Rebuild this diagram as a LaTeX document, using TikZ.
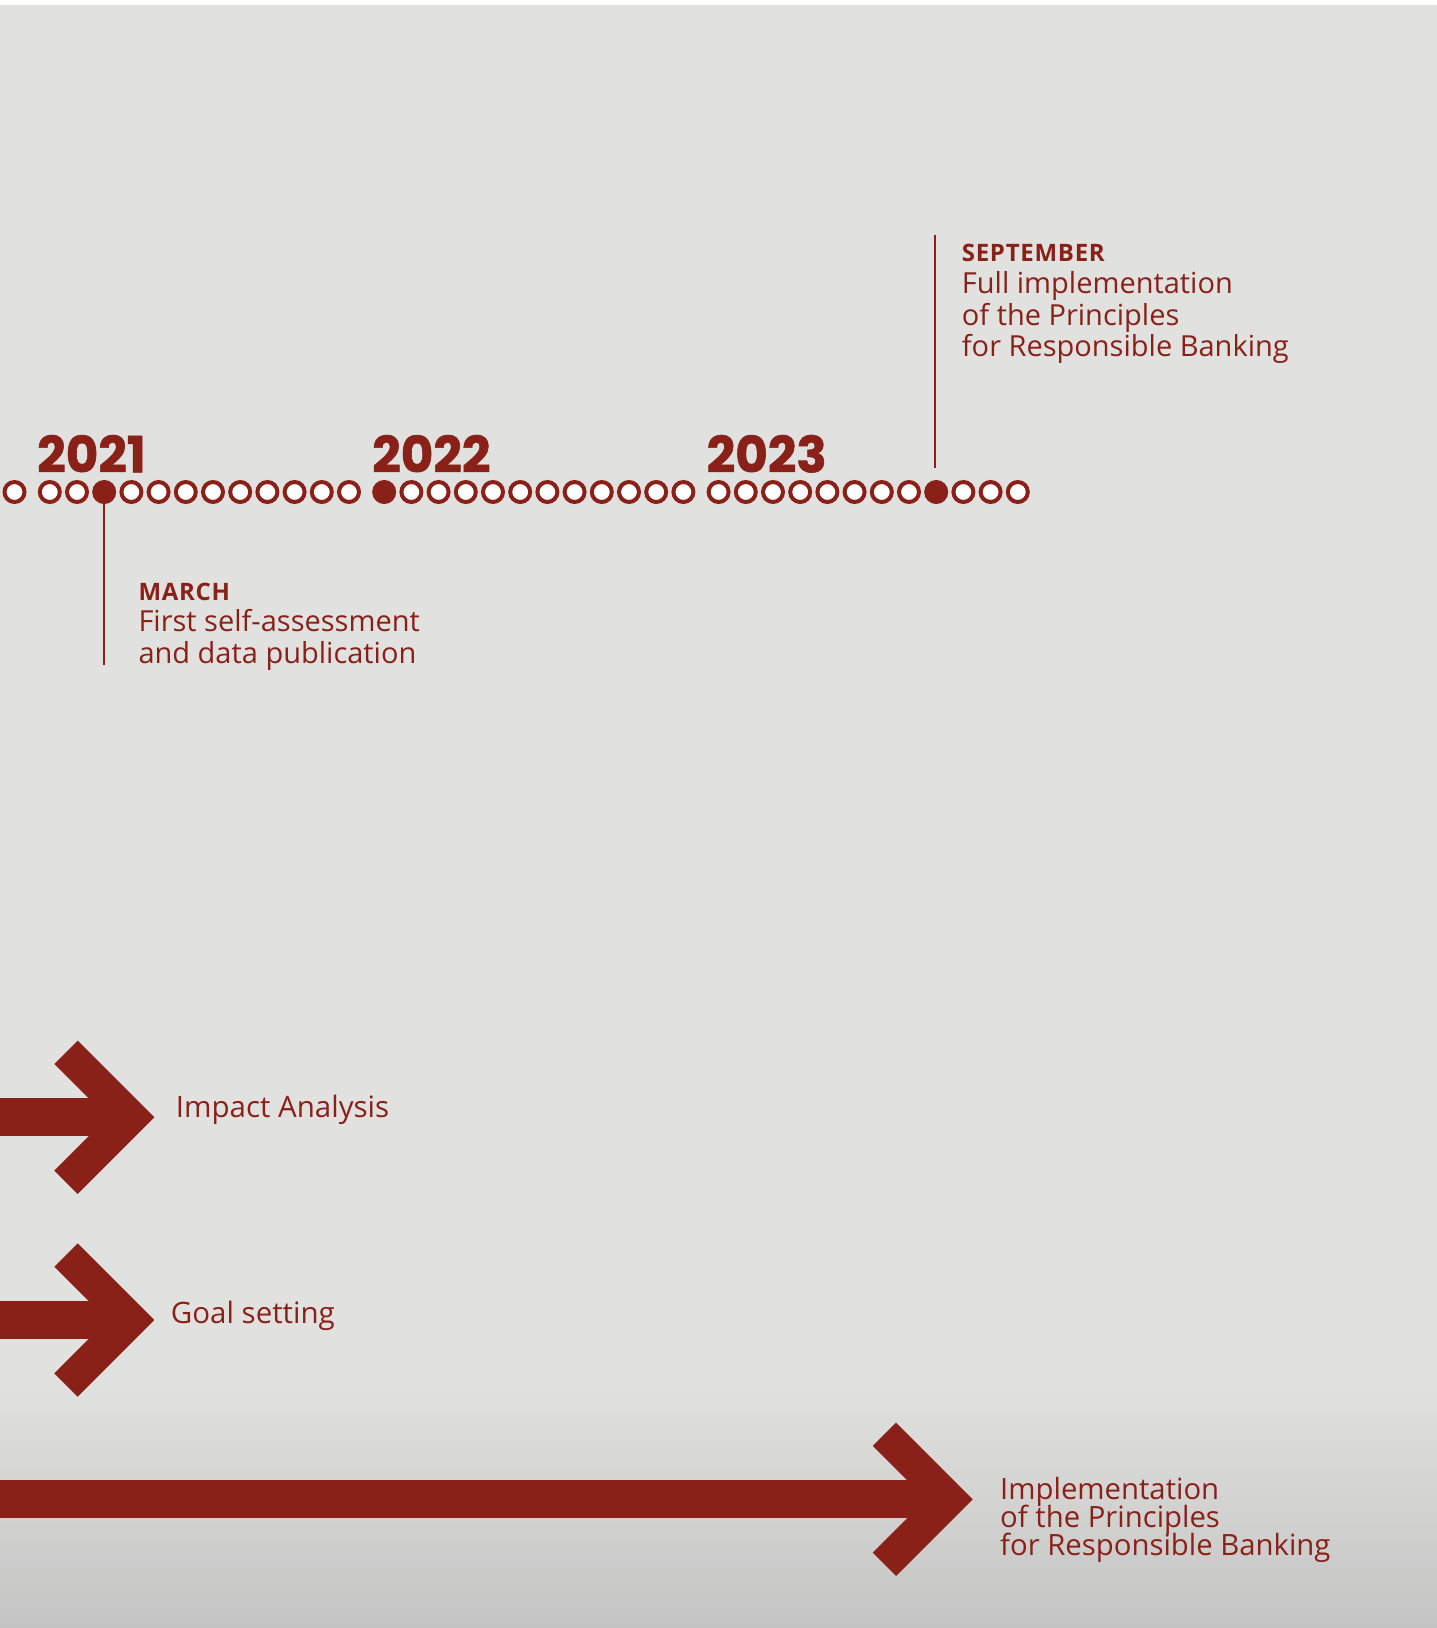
\documentclass[tikz,border=0pt]{standalone}
\usepackage{fontspec}
\setmainfont{Open Sans}
\newfontfamily\yearfont{Poppins}[FakeBold=1.2]
\definecolor{prbred}{HTML}{8A2119}
\definecolor{bgtop}{HTML}{E1E1DF}
\definecolor{bgbot}{HTML}{C4C4C4}
\newcommand\tightlines{\lineskiplimit=-50pt\relax}

\begin{document}
\begin{tikzpicture}[x=1pt, y=-1pt,
		month/.style={draw=prbred, line width=4pt, fill=white, circle, inner sep=0pt, minimum size=20pt},
		donemonth/.style={fill=prbred, circle, inner sep=0pt, minimum size=22pt},
		yearlabel/.style={anchor=base west, inner sep=0pt, text=prbred, font=\yearfont\bfseries\fontsize{50}{50}\selectfont},
		head/.style={anchor=base west, inner sep=0pt, text=prbred, font=\bfseries\fontsize{24}{24}\selectfont\addfontfeatures{LetterSpace=3}},
		note/.style={anchor=base west, inner sep=0pt, text=prbred, align=left, font=\fontsize{29}{31.5}\selectfont},
		arrowtext/.style={anchor=base west, inner sep=0pt, text=prbred, font=\fontsize{29.5}{29.5}\selectfont},
		tick/.style={draw=prbred, line width=2pt},
		shaft/.style={draw=prbred, line width=37.7pt},
		chevron/.style={draw=prbred, line width=33pt, line join=miter}]
			\useasboundingbox (0,0) rectangle (1437,1628);
			\fill[white] (0,0) rectangle (1437,1628);
			\fill[bgtop] (0,5) rectangle (1437,1628);
			\shade[top color=bgtop, bottom color=bgbot] (0,1380) rectangle (1437,1628);
			% months of the timeline
			\node[month] (m20-12) at (14.5, 492) {};
			\foreach \yr [count=\i from 0] in {21,22,23} {
				\foreach \m in {1,...,12} {
					\node[month] (m\yr-\m) at ({49.8+\i*334.4+(\m-1)*27.2}, 492) {};
				}
			}
			\node[donemonth] (mar21) at (m21-3) {};
			\node[donemonth] (jan22) at (m22-1) {};
			\node[donemonth] (sep23) at (m23-9) {};
			\node[yearlabel] (y21) at (37, 472.3) {2021};
			\node[yearlabel] (y22) at (372, 472.3) {2022};
			\node[yearlabel] (y23) at (706.5, 472.3) {2023};
			% milestones (multi-line notes sit on their last baseline)
			\coordinate (marend) at (104.2, 665);
			\coordinate (septop) at (935, 235);
			\coordinate (sepbot) at (935, 468);
			\draw[tick] (mar21.center) -- (marend);
			\draw[tick] (septop) -- (sepbot);
			\node[head] (marhead) at (138.3, 600) {MARCH};
			\node[note] (martext) at (138.3, 663.3) {First self-assessment\\and data publication};
			\node[head] (sephead) at (961.7, 261.7) {SEPTEMBER};
			\node[note] (septext) at (961.7, 356.7) {Full implementation\\of the Principles\\for Responsible Banking};
			% arrows
			\foreach \name/\tx/\ty in {impact/131/1117.3, goal/131/1320, impl/949.4/1499.3} {
				\coordinate (\name-tip) at (\tx, \ty);
				\coordinate (\name-up) at (\tx-65, \ty-65);
				\coordinate (\name-dn) at (\tx-65, \ty+65);
				\coordinate (\name-tail) at (-5, \ty);
				\draw[shaft] (\name-tail) -- (\name-tip);
				\draw[chevron] (\name-up) -- (\name-tip) -- (\name-dn);
			}
			\node[arrowtext] (impacttext) at (175.7, 1117.3) {Impact Analysis};
			\node[arrowtext] (goaltext) at (170.7, 1323.3) {Goal setting};
			\node[arrowtext, align=left, font=\fontsize{29.3}{27.8}\selectfont\tightlines] (impltext) at (1000, 1555) {Implementation\\of the Principles\\for Responsible Banking};
		\end{tikzpicture}
\end{document}
